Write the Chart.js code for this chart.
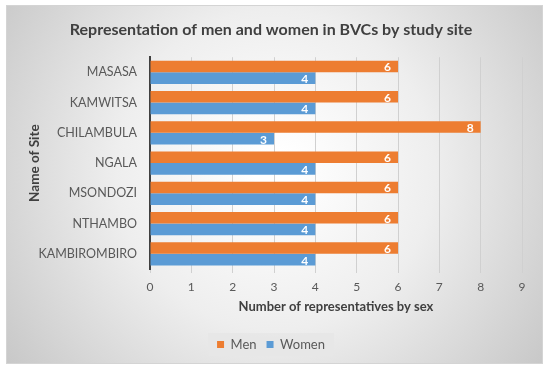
<!DOCTYPE html>
<html>
<head>
<meta charset="utf-8">
<script src="https://cdn.jsdelivr.net/npm/chart.js@4"></script>
<style>
  html, body { margin: 0; padding: 0; background: #fff; }
  #wrap { width: 550px; height: 373px; }
</style>
</head>
<body>
<div id="wrap"><canvas id="bvcChart" width="550" height="373"></canvas></div>
<script>
const sites = ["MASASA", "KAMWITSA", "CHILAMBULA", "NGALA", "MSONDOZI", "NTHAMBO", "KAMBIROMBIRO"];
const men = [6, 6, 8, 6, 6, 6, 6];
const women = [4, 4, 3, 4, 4, 4, 4];
const xTicks = [0, 1, 2, 3, 4, 5, 6, 7, 8, 9];

const FONT = "Lato, 'Open Sans', sans-serif";

// grey gradient frame behind everything, plus the legend's light box
const frameBg = {
  id: "frameBg",
  beforeDraw(chart) {
    const ctx = chart.ctx;
    ctx.save();
    ctx.fillStyle = "#fff";
    ctx.fillRect(0, 0, chart.width, chart.height);
    const g = ctx.createRadialGradient(275, 170, 20, 275, 170, 330);
    g.addColorStop(0, "#ffffff");
    g.addColorStop(0.45, "#eeeeee");
    g.addColorStop(1, "#c8c8c8");
    ctx.fillStyle = g;
    ctx.fillRect(6, 5, 537, 359);
    ctx.strokeStyle = "#d4d4d4";
    ctx.lineWidth = 1;
    ctx.strokeRect(6.5, 5.5, 536, 358);

    const boxes = chart.legend && chart.legend.legendHitBoxes;
    if (boxes && boxes.length) {
      let x0 = Infinity, x1 = -Infinity, y0 = Infinity, y1 = -Infinity;
      boxes.forEach(b => {
        x0 = Math.min(x0, b.left); x1 = Math.max(x1, b.left + b.width);
        y0 = Math.min(y0, b.top); y1 = Math.max(y1, b.top + b.height);
      });
      ctx.fillStyle = "rgba(230,230,230,0.85)";
      ctx.fillRect(x0 - 9, y0 - 5, x1 - x0 + 18, y1 - y0 + 10);
    }
    ctx.restore();
  }
};

// white value labels at the inner end of each bar
const barLabels = {
  id: "barLabels",
  afterDatasetsDraw(chart) {
    const ctx = chart.ctx;
    ctx.save();
    ctx.font = "bold 12px " + FONT;
    ctx.fillStyle = "#ffffff";
    ctx.textAlign = "right";
    ctx.textBaseline = "middle";
    chart.data.datasets.forEach((ds, i) => {
      chart.getDatasetMeta(i).data.forEach((bar, j) => {
        ctx.fillText(ds.data[j], bar.x - 7, bar.y + 1);
      });
    });
    ctx.restore();
  }
};

new Chart(document.getElementById("bvcChart"), {
  type: "bar",
  data: {
    labels: sites,
    datasets: [
      { label: "Men", data: men, backgroundColor: "#ED7D31" },
      { label: "Women", data: women, backgroundColor: "#5B9BD5" }
    ]
  },
  options: {
    indexAxis: "y",
    responsive: false,
    animation: false,
    layout: { padding: { left: 20, right: 28, top: 0, bottom: 12 } },
    datasets: { bar: { categoryPercentage: 0.77, barPercentage: 1 } },
    scales: {
      x: {
        min: 0,
        max: 9,
        afterBuildTicks: s => { s.ticks = xTicks.map(v => ({ value: v })); },
        afterFit: s => { s.height = 59; },
        grid: { color: "#d0d0d0", tickLength: 4 },
        border: { display: false },
        ticks: { color: "#595959", font: { family: FONT, size: 12 }, padding: 7 },
        title: {
          display: true,
          text: "Number of representatives by sex",
          color: "#404040",
          font: { family: FONT, size: 13, weight: "bold" },
          padding: { top: 4, bottom: 13 }
        }
      },
      y: {
        afterFit: s => { s.width = 130; },
        grid: { color: "transparent", drawTicks: false },
        border: { color: "#404040", width: 2 },
        ticks: { color: "#595959", font: { family: FONT, size: 12.5 }, padding: 13 },
        title: {
          display: true,
          text: "Name of Site",
          color: "#404040",
          font: { family: FONT, size: 13.5, weight: "bold" },
          padding: { top: 7, bottom: 0 }
        }
      }
    },
    plugins: {
      title: {
        display: true,
        text: "Representation of men and women in BVCs by study site",
        color: "#404040",
        font: { family: FONT, size: 16, weight: "bold" },
        padding: { top: 20, bottom: 18 }
      },
      legend: {
        position: "bottom",
        labels: {
          color: "#595959",
          font: { family: FONT, size: 13 },
          boxWidth: 7,
          boxHeight: 7,
          padding: 10
        }
      },
      tooltip: { enabled: false }
    }
  },
  plugins: [frameBg, barLabels]
});
</script>
</body>
</html>
